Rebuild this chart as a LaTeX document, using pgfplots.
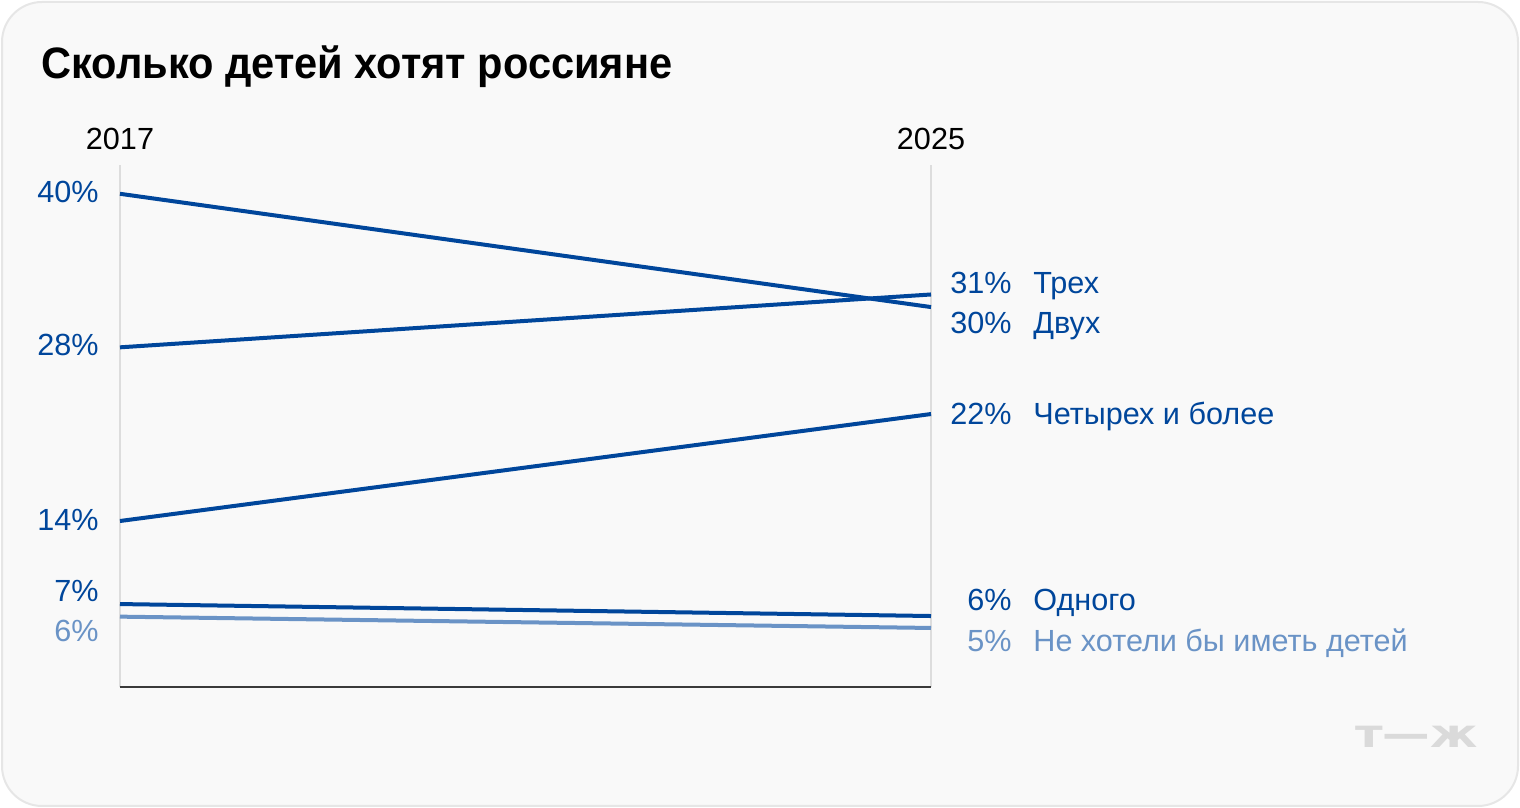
\documentclass[border=0pt]{standalone}
\usepackage{pgfplots}
\pgfplotsset{compat=1.18}
\usepackage{fontspec}
\setmainfont{Liberation Sans}
\newfontfamily\titlefont{Liberation Sans}[FakeStretch=0.945]
\newfontfamily\logofont{DejaVu Sans}
\definecolor{bg}{HTML}{F9F9F9}
\definecolor{framec}{HTML}{E6E6E6}
\definecolor{dblue}{HTML}{00469B}
\definecolor{lblue}{HTML}{6A93C6}
\definecolor{gridc}{HTML}{DDDDDD}
\definecolor{axisc}{HTML}{3A3A3A}
\definecolor{logoc}{HTML}{DADADA}
\begin{document}
\begin{tikzpicture}
\begin{scope}[x=0.5pt,y=0.5pt]
\path[use as bounding box] (0,0) rectangle (1520,808);
\draw[framec, fill=bg, line width=1pt, rounded corners=20pt] (2,2) rectangle (1518,806);
\end{scope}
\begin{axis}[at={(60pt,60.5pt)}, anchor=south west, width=405.5pt, height=261pt, scale only axis,
  xmin=2017, xmax=2025, ymin=0.41, ymax=41.89,
  axis lines=none, clip=false]
  \draw[gridc, line width=1pt] (axis cs:2017,0.41) -- (axis cs:2017,41.89);
  \draw[gridc, line width=1pt] (axis cs:2025,0.41) -- (axis cs:2025,41.89);
  \draw[axisc, line width=1.3pt] (axis cs:2017,0.41) -- (axis cs:2025,0.41);
  \addplot[dblue, line width=2pt, no marks] coordinates {(2017,39.6) (2025,30.6)};
  \addplot[dblue, line width=2pt, no marks] coordinates {(2017,27.4) (2025,31.6)};
  \addplot[dblue, line width=2pt, no marks] coordinates {(2017,13.6) (2025,22.1)};
  \addplot[dblue, line width=2pt, no marks] coordinates {(2017,7.0) (2025,6.05)};
  \addplot[lblue, line width=2pt, no marks] coordinates {(2017,6.0) (2025,5.1)};
\end{axis}
\begin{scope}[x=0.5pt,y=0.5pt, every node/.style={inner sep=0pt, font=\fontsize{15.3}{18}\selectfont}]
\node[anchor=base west, font=\titlefont\bfseries\fontsize{22}{26}\selectfont] at (41,729) {Сколько детей хотят россияне};
\node[anchor=base] at (120,658) {2017};
\node[anchor=base] at (931,658) {2025};
\node[anchor=base east, text=dblue] at (99,605) {40\%};
\node[anchor=base east, text=dblue] at (99,452) {28\%};
\node[anchor=base east, text=dblue] at (99,277) {14\%};
\node[anchor=base east, text=dblue] at (99,206) {7\%};
\node[anchor=base east, text=lblue] at (99,166) {6\%};
\node[anchor=base east, text=dblue] at (1012,514) {31\%};
\node[anchor=base west, text=dblue] at (1033,514) {Трех};
\node[anchor=base east, text=dblue] at (1012,474) {30\%};
\node[anchor=base west, text=dblue] at (1033,474) {Двух};
\node[anchor=base east, text=dblue] at (1012,383) {22\%};
\node[anchor=base west, text=dblue] at (1033,383) {Четырех и более};
\node[anchor=base east, text=dblue] at (1012,197) {6\%};
\node[anchor=base west, text=dblue] at (1033,197) {Одного};
\node[anchor=base east, text=lblue] at (1012,156) {5\%};
\node[anchor=base west, text=lblue] at (1033,156) {Не хотели бы иметь детей};
\node[anchor=base east, text=logoc, font=\logofont\bfseries\fontsize{19.5}{20}\selectfont] at (1478,60) {\scalebox{1.22}[1]{т—ж}};
\end{scope}
\end{tikzpicture}
\end{document}
